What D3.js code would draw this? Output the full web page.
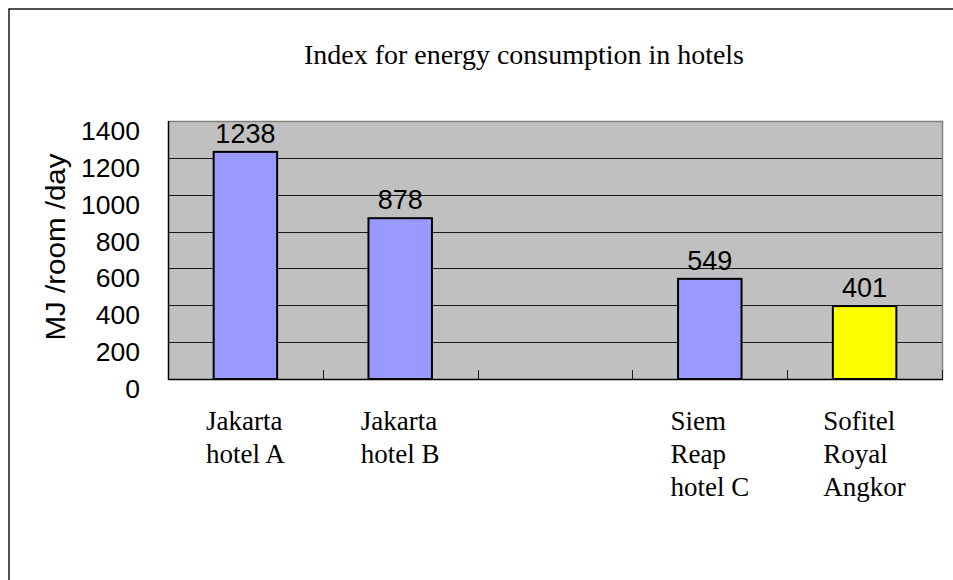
<!DOCTYPE html>
<html>
<head>
<meta charset="utf-8">
<script src="https://cdn.jsdelivr.net/npm/d3@7"></script>
<style>
  html, body { margin: 0; padding: 0; background: #fff; }
  svg { display: block; }
</style>
</head>
<body>
<svg id="chart" width="953" height="580"></svg>
<script>
// ---- data ----
const title = "Index for energy consumption in hotels";
const yAxisTitle = "MJ /room /day";
const categories = ["Jakarta\nhotel A", "Jakarta\nhotel B", "(blank)", "Siem\nReap\nhotel C", "Sofitel\nRoyal\nAngkor"];
const values = [1238, 878, null, 549, 401];
const yTicks = [0, 200, 400, 600, 800, 1000, 1200, 1400];
const highlighted = "Sofitel\nRoyal\nAngkor";

// ---- layout ----
const W = 953, H = 580;
const plot = { left: 168, right: 942, top: 121, bottom: 379 };

const svg = d3.select("#chart");

// outer frame (cropped at right/bottom)
svg.append("path")
  .attr("d", `M9,${H + 2} L9,9 L${W + 2},9`)
  .attr("fill", "none").attr("stroke", "#1a1a1a").attr("stroke-width", 1.5);

const x = d3.scaleBand()
  .domain(categories)
  .range([plot.left, plot.right])
  .paddingInner(0.59)
  .paddingOuter(0.295);

const y = d3.scaleLinear()
  .domain([0, 1400])
  .range([plot.bottom, plot.top]);

// plot background
svg.append("rect")
  .attr("x", plot.left).attr("y", plot.top)
  .attr("width", plot.right - plot.left).attr("height", plot.bottom - plot.top)
  .attr("fill", "#C0C0C0");

// gridlines
svg.append("g").selectAll("line")
  .data(yTicks.filter(t => t > 0 && t < 1400))
  .join("line")
  .attr("x1", plot.left).attr("x2", plot.right)
  .attr("y1", d => Math.round(y(d)) + 0.5).attr("y2", d => Math.round(y(d)) + 0.5)
  .attr("stroke", "#1a1a1a").attr("stroke-width", 1);

// top and right border (gray)
svg.append("path")
  .attr("d", `M${plot.left},${plot.top + 0.5} L${plot.right + 0.5},${plot.top + 0.5} L${plot.right + 0.5},${plot.bottom}`)
  .attr("fill", "none").attr("stroke", "#808080").attr("stroke-width", 1.5);

// bottom axis category boundary ticks (inside)
const step = x.step();
const boundaries = d3.range(categories.length + 1).map(i => plot.left + i * step);
svg.append("g").selectAll("line")
  .data(boundaries)
  .join("line")
  .attr("x1", d => Math.round(d) + 0.5).attr("x2", d => Math.round(d) + 0.5)
  .attr("y1", plot.bottom).attr("y2", plot.bottom - 9)
  .attr("stroke", "#1a1a1a").attr("stroke-width", 1);

// bars
svg.append("g").selectAll("rect")
  .data(categories.map((c, i) => ({ c, v: values[i] })).filter(d => d.v != null))
  .join("rect")
  .attr("x", d => x(d.c))
  .attr("y", d => y(d.v) + 1)
  .attr("width", x.bandwidth())
  .attr("height", d => y(0) - y(d.v) - 1)
  .attr("fill", d => d.c === highlighted ? "#FFFF00" : "#9999FF")
  .attr("stroke", "#000").attr("stroke-width", 2);

// axis lines
svg.append("line")
  .attr("x1", plot.left).attr("x2", plot.right + 1)
  .attr("y1", plot.bottom + 0.5).attr("y2", plot.bottom + 0.5)
  .attr("stroke", "#000").attr("stroke-width", 1.5);
svg.append("line")
  .attr("x1", plot.left + 0.5).attr("x2", plot.left + 0.5)
  .attr("y1", plot.top).attr("y2", plot.bottom + 1)
  .attr("stroke", "#000").attr("stroke-width", 1.5);

// data labels
svg.append("g").selectAll("text")
  .data(categories.map((c, i) => ({ c, v: values[i] })).filter(d => d.v != null))
  .join("text")
  .attr("x", d => x(d.c) + x.bandwidth() / 2)
  .attr("y", d => y(d.v) - 8)
  .attr("text-anchor", "middle")
  .attr("font-family", "Liberation Sans, Arial, sans-serif")
  .attr("font-size", 27)
  .attr("fill", "#000")
  .text(d => d.v);

// y tick labels
svg.append("g").selectAll("text")
  .data(yTicks)
  .join("text")
  .attr("x", 140)
  .attr("y", d => y(d) + 19)
  .attr("text-anchor", "end")
  .attr("font-family", "Liberation Sans, Arial, sans-serif")
  .attr("font-size", 26.5)
  .attr("fill", "#000")
  .text(d => d);

// y axis title
svg.append("text")
  .attr("transform", `translate(65, 247) rotate(-90)`)
  .attr("text-anchor", "middle")
  .attr("font-family", "Liberation Sans, Arial, sans-serif")
  .attr("font-size", 27)
  .attr("textLength", 187)
  .attr("lengthAdjust", "spacingAndGlyphs")
  .attr("fill", "#000")
  .text(yAxisTitle);

// title
svg.append("text")
  .attr("x", 524).attr("y", 64)
  .attr("text-anchor", "middle")
  .attr("font-family", "Liberation Serif, Times New Roman, serif")
  .attr("font-size", 27)
  .attr("textLength", 440)
  .attr("lengthAdjust", "spacingAndGlyphs")
  .attr("fill", "#000")
  .text(title);

// category labels (left-aligned multi-line blocks centered on band)
const catG = svg.append("g");
categories.forEach(c => {
  if (values[categories.indexOf(c)] == null) return;
  const lines = c.split("\n");
  const t = catG.append("text")
    .attr("font-family", "Liberation Serif, Times New Roman, serif")
    .attr("font-size", 27)
    .attr("fill", "#000");
  lines.forEach((ln, i) => {
    t.append("tspan").attr("y", 430 + i * 33).text(ln);
  });
  let maxW = 0;
  t.selectAll("tspan").each(function () { maxW = Math.max(maxW, this.getComputedTextLength()); });
  const left = x(c) + x.bandwidth() / 2 - maxW / 2;
  t.selectAll("tspan").attr("x", left);
});
</script>
</body>
</html>
